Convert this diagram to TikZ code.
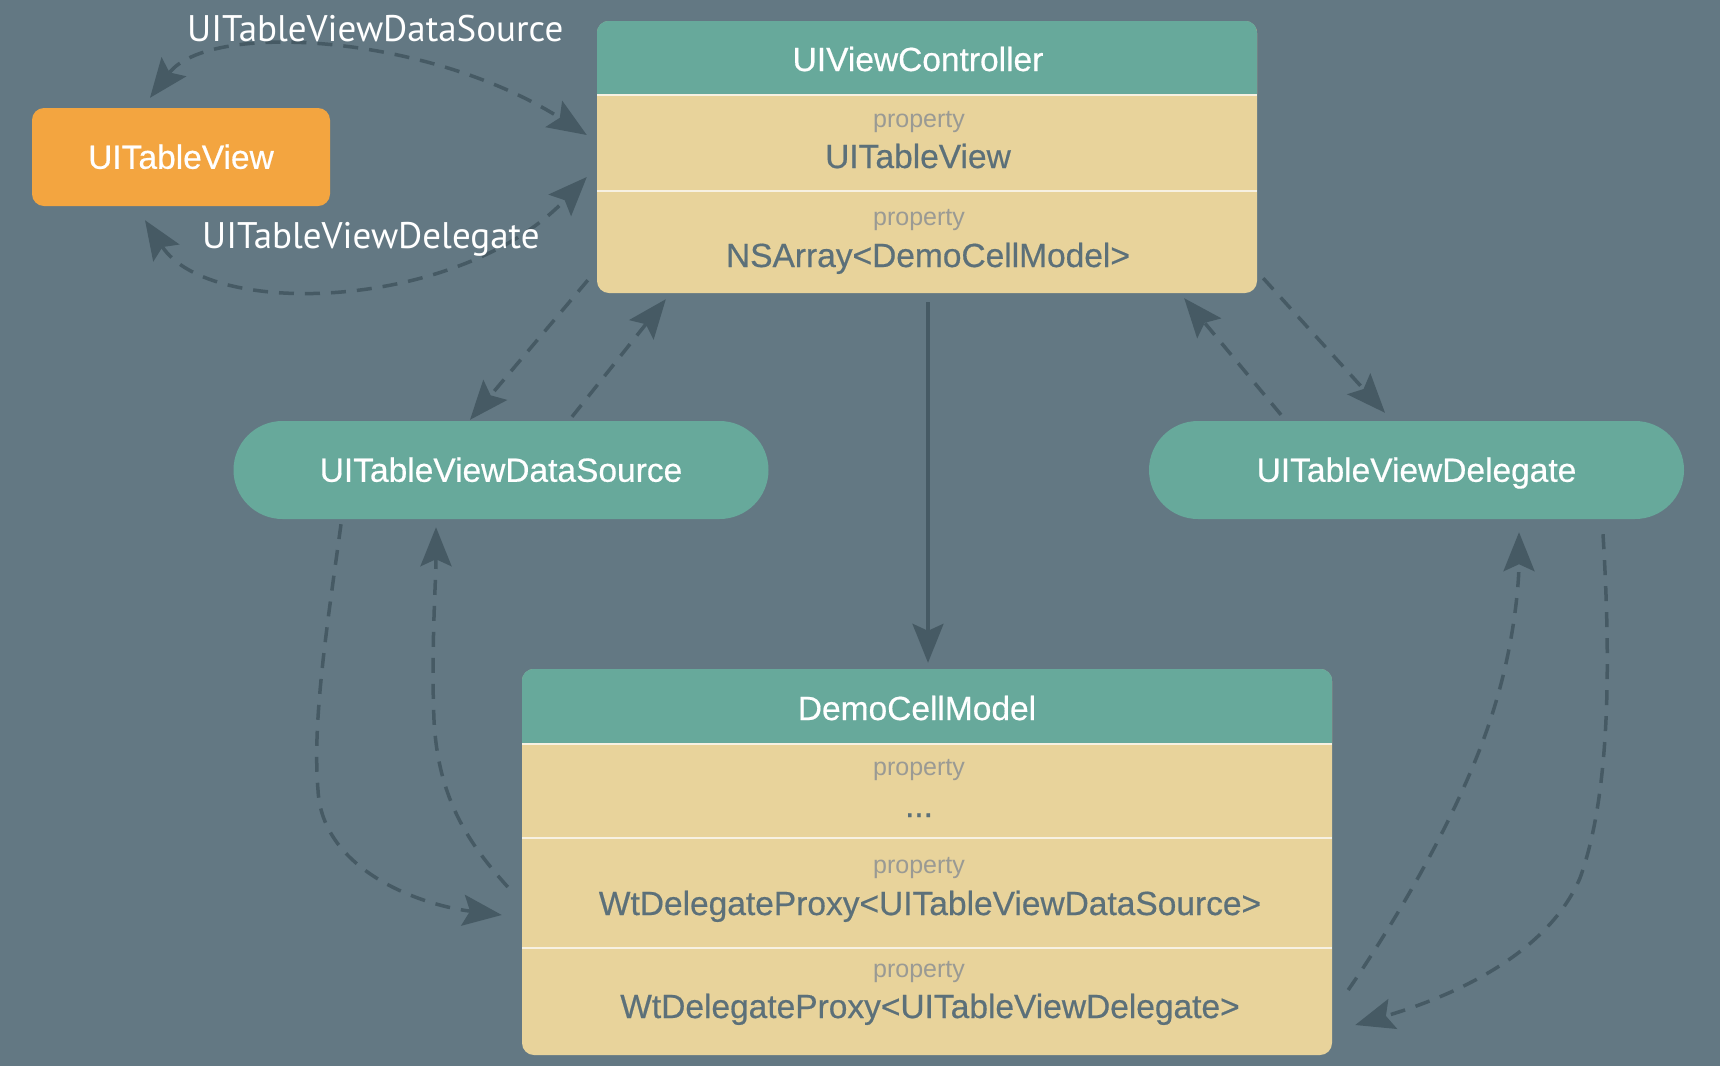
\documentclass[tikz,border=0pt]{standalone}
\usepackage{fontspec}
\setmainfont{Liberation Sans}
\newfontfamily\medfont[FakeBold=0.5]{Liberation Sans}
\newfontfamily\labelfont{PT Sans}
\usetikzlibrary{arrows.meta,calc}
\definecolor{bgcol}{HTML}{637883}
\definecolor{hdrcol}{HTML}{67A99B}
\definecolor{bodycol}{HTML}{E8D39B}
\definecolor{orangecol}{HTML}{F3A540}
\definecolor{linecol}{HTML}{465A64}
\definecolor{darktext}{HTML}{5C7079}
\definecolor{proptext}{HTML}{9A9A94}
\definecolor{divcol}{HTML}{F7F1E2}
\begin{document}
\begin{tikzpicture}[x=1pt,y=-1pt,
  >={Stealth[length=39pt,width=31pt,inset=7pt]},
  txt/.style={inner sep=0pt, anchor=base},
  hdrtxt/.style={txt, text=white, font=\medfont\fontsize{33.5}{40}\selectfont},
  bodytxt/.style={txt, text=darktext, font=\medfont\fontsize{33.5}{40}\selectfont},
  proptxt/.style={txt, text=proptext, font=\fontsize{25}{30}\selectfont},
  lbl/.style={inner sep=0pt, anchor=base west, text=white, font=\labelfont\fontsize{37}{44}\selectfont},
  classbox/.style={fill=bodycol, rounded corners=12pt, inner sep=0pt},
  pill/.style={fill=hdrcol, rounded corners=49pt, minimum width=535pt, minimum height=98pt, inner sep=0pt, text height=23.5pt, text depth=0pt, text=white, font=\medfont\fontsize{33.5}{40}\selectfont},
  tvbox/.style={fill=orangecol, rounded corners=12pt, minimum width=298pt, minimum height=98pt, inner sep=0pt, text height=23.5pt, text depth=0pt, text=white, font=\medfont\fontsize{33.5}{40}\selectfont},
  conn/.style={draw=linecol, line width=3.5pt},
  dconn/.style={conn, dash pattern=on 15pt off 11pt},
  divider/.style={draw=divcol, line width=2.5pt}
]
\fill[bgcol] (0,0) rectangle (1720,1066);
\useasboundingbox (0,0) rectangle (1720,1066);

% UITableView
\node[tvbox] (tv) at (181,157) {UITableView};

% UIViewController
\node[classbox, minimum width=660pt, minimum height=272pt] (vc) at (927,157) {};
\begin{scope}
  \clip[rounded corners=12pt] (vc.north west) rectangle (vc.south east);
  \fill[hdrcol] (vc.north west) rectangle (1257,95);
\end{scope}
\draw[divider] (597,95) -- (1257,95);
\draw[divider] (597,191) -- (1257,191);
\node[hdrtxt] (vcT) at (918,71) {UIViewController};
\node[proptxt] (vcP1) at (919,127) {property};
\node[bodytxt] (vcA1) at (918,168) {UITableView};
\node[proptxt] (vcP2) at (919,225) {property};
\node[bodytxt] (vcA2) at (928,267) {NSArray<DemoCellModel>};

% pills
\node[pill] (ds) at (501,470) {UITableViewDataSource};
\node[pill] (dl) at (1416.5,470) {UITableViewDelegate};

% DemoCellModel
\node[classbox, minimum width=810pt, minimum height=386pt] (dm) at (927,862) {};
\begin{scope}
  \clip[rounded corners=12pt] (dm.north west) rectangle (dm.south east);
  \fill[hdrcol] (dm.north west) rectangle (1332,744);
\end{scope}
\draw[divider] (522,744) -- (1332,744);
\draw[divider] (522,838) -- (1332,838);
\draw[divider] (522,948) -- (1332,948);
\node[hdrtxt] (dmT) at (917,720) {DemoCellModel};
\node[proptxt] (dmP1) at (919,775) {property};
\node[bodytxt] (dmA1) at (919,817) {...};
\node[proptxt] (dmP2) at (919,873) {property};
\node[bodytxt] (dmA2) at (930,915) {WtDelegateProxy<UITableViewDataSource>};
\node[proptxt] (dmP3) at (919,977) {property};
\node[bodytxt] (dmA3) at (930,1018) {WtDelegateProxy<UITableViewDelegate>};

% connectors
\draw[dconn,<->] ($(tv.north)+(-31,-10)$) .. controls (210,20) and (430,35) .. ($(vc.west)+(-10,-22)$);
\draw[dconn,<->] ($(tv.south)+(-36,14)$) .. controls (210,320) and (460,310) .. ($(vc.west)+(-10,20)$);
\draw[dconn,->] ($(vc.south west)+(-9,-13)$) -- ($(ds.north)+(-31,-1)$);
\draw[dconn,->] ($(ds.north)+(71,-4)$) -- ($(vc.south west)+(69,6)$);
\draw[dconn,->] ($(vc.south east)+(6,-15)$) -- ($(dl.north)+(-31.5,-8)$);
\draw[dconn,->] ($(dl.north)+(-135.5,-6)$) -- ($(vc.south east)+(-73,5)$);
\draw[conn,->] ($(vc.south)+(1,9)$) -- ($(dm.north)+(1,-6)$);
\draw[dconn,->] ($(ds.south)+(-160,5)$) .. controls (328,620) and (312,720) .. (318,790)
   .. controls (322,870) and (420,905) .. ($(dm.west)+(-20,53)$);
\draw[dconn,->] ($(dm.west)+(-14,25)$) .. controls (470,845) and (438,800) .. (434,720)
   .. controls (431,650) and (436,580) .. ($(ds.south)+(-65,8)$);
\draw[dconn,->] ($(dm.east)+(16,128)$) .. controls (1410,900) and (1470,790) .. (1495,705)
   .. controls (1515,640) and (1519,580) .. ($(dl.south)+(102.5,13)$);
\draw[dconn,->] ($(dl.south)+(186.5,15)$) .. controls (1610,650) and (1612,790) .. (1580,878)
   .. controls (1545,960) and (1440,1000) .. ($(dm.east)+(23,163)$);

% edge labels
\node[lbl] (l1) at (187,41) {UITableViewDataSource};
\node[lbl] (l2) at (202,248) {UITableViewDelegate};
\end{tikzpicture}
\end{document}
